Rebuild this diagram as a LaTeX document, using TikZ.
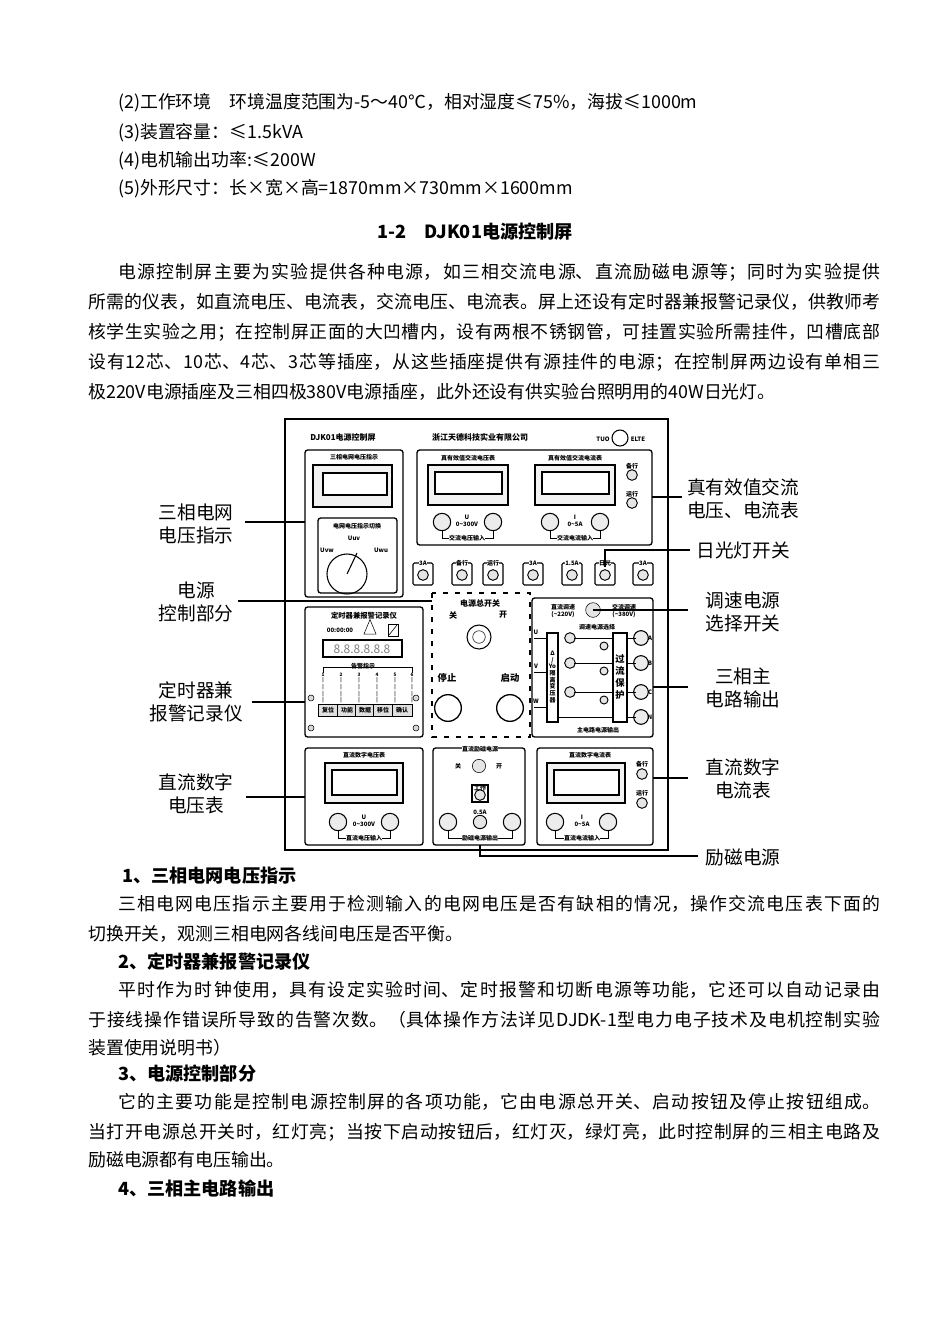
\documentclass[tikz,border=0pt]{standalone}
\usepackage{fontspec}
\setmainfont{Noto Sans CJK SC}
\XeTeXlinebreaklocale "zh"
\XeTeXlinebreakskip=0pt plus 3pt
\usetikzlibrary{shapes.geometric}
\tikzset{
 body/.style={anchor=base west,inner sep=0pt,font=\fontsize{13.4}{14}\selectfont},
 head/.style={body,font=\fontsize{13.6}{14}\selectfont\bfseries},
 lab/.style={align=center,inner sep=0pt,font=\fontsize{14}{17}\selectfont},
 tiny/.style={inner sep=0pt,font=\fontsize{4.5}{5}\selectfont\bfseries},
 box/.style={draw,line width=1pt,rounded corners=2pt},
 meter/.style={draw,line width=0.8pt,fill=gray!10},
 term/.style={draw,line width=0.8pt,circle,minimum size=13pt,inner sep=0pt,fill=gray!15},
 lamp/.style={draw,line width=0.7pt,circle,minimum size=8pt,inner sep=0pt,fill=gray!20},
 lead/.style={line width=1.3pt}
}
\newcommand{\jl}[1]{\parbox[b]{594pt}{\parfillskip=0pt\parindent=0pt\emergencystretch=20pt #1}}
\newcommand{\jf}[1]{\parbox[b]{571.5pt}{\parfillskip=0pt\parindent=0pt\emergencystretch=20pt #1}}
\begin{document}
\begin{tikzpicture}[x=0.75pt,y=-0.75pt]
\useasboundingbox (0,0) rectangle (950,1342);
% top text
\node[body] (t1) at (118,108) {(2)工作环境\quad 环境温度范围为-5～40℃，相对湿度≤75\%，海拔≤1000m};
\node[body] (t2) at (118,138) {(3)装置容量：≤1.5kVA};
\node[body] (t3) at (118,166) {(4)电机输出功率:≤200W};
\node[body] (t4) at (118,194) {(5)外形尺寸：长×宽×高=1870mm×730mm×1600mm};
\node[head,anchor=base] (ttl) at (475,238) {1-2\quad DJK01电源控制屏};
\node[body] (p1) at (118,278) {\jf{电源控制屏主要为实验提供各种电源，如三相交流电源、直流励磁电源等；同时为实验提供}};
\node[body] (p2) at (88,308) {\jl{所需的仪表，如直流电压、电流表，交流电压、电流表。屏上还设有定时器兼报警记录仪，供教师考}};
\node[body] (p3) at (88,338) {\jl{核学生实验之用；在控制屏正面的大凹槽内，设有两根不锈钢管，可挂置实验所需挂件，凹槽底部}};
\node[body] (p4) at (88,368) {\jl{设有12芯、10芯、4芯、3芯等插座，从这些插座提供有源挂件的电源；在控制屏两边设有单相三}};
\node[body] (p5) at (88,398) {极220V电源插座及三相四极380V电源插座，此外还设有供实验台照明用的40W日光灯。};

% panel
\draw[line width=1.6pt] (285,419) rectangle (668,850);
\node[tiny,font=\fontsize{6}{6}\selectfont\bfseries] (pt) at (343,437) {DJK01电源控制屏};
\node[tiny,font=\fontsize{6}{6}\selectfont\bfseries] (co) at (480,437) {浙江天德科技实业有限公司};
\node[draw,circle,minimum size=12pt,inner sep=0pt,line width=0.8pt] (logo) at (620,438) {};
\node[tiny] (lg1) at (603,439) {TUO}; \node[tiny] (lg2) at (638,439) {ELTE};
% grid voltage
\draw[box] (305,450) rectangle (403,597);
\node[tiny] (g1) at (354,457) {三相电网电压指示};
\draw[meter] (313,465) rectangle (392,507); \draw[line width=0.8pt,fill=white] (323,473) rectangle (387,495);
\draw[box] (318,518) rectangle (397,593);
\node[tiny] (g2) at (357,526) {电网电压指示切换};
\node[draw,circle,minimum size=30pt,line width=0.8pt] (knob) at (347,574) {};
\draw[line width=0.8pt] (knob.center) -- (357,553);
\node[tiny] (u1) at (354,538) {Uuv}; \node[tiny] (u2) at (327,550) {Uvw}; \node[tiny] (u3) at (381,550) {Uwu};
% AC meters
\draw[box] (417,450) rectangle (652,545);
\node[tiny] (a1) at (468,458) {真有效值交流电压表};
\node[tiny] (a2) at (575,458) {真有效值交流电流表};
\draw[meter] (428,465) rectangle (508,505); \draw[line width=0.8pt,fill=white] (435,472) rectangle (502,494);
\draw[meter] (535,465) rectangle (615,505); \draw[line width=0.8pt,fill=white] (542,472) rectangle (609,494);
\node[term] (vt1) at (442,522) {}; \node[term] (vt2) at (493,522) {};
\node[term] (it1) at (550,522) {}; \node[term] (it2) at (600,522) {};
\draw (vt1) -- (442,538) -- (493,538) -- (vt2); \draw (it1) -- (550,538) -- (600,538) -- (it2);
\node[tiny,align=center] (vu) at (467,521) {U\\0\textasciitilde300V};
\node[tiny,fill=white] (vi) at (467,538) {交流电压输入};
\node[tiny,align=center] (iu) at (575,521) {I\\0\textasciitilde5A};
\node[tiny,fill=white] (ii) at (575,538) {交流电流输入};
\node[lamp] (l1) at (632,475) {}; \node[tiny] (l1t) at (632,466) {备行};
\node[lamp] (l2) at (632,503) {}; \node[tiny] (l2t) at (632,494) {运行};
% fuse row
\foreach \x/\t [count=\i] in {423/3A,462/备行,493/运行,533/3A,572/1.5A,605/日光,643/3A}{
 \draw[line width=0.8pt,rounded corners=1pt] (\x-10,563) rectangle (\x+10,585);
 \node[lamp] (f\i) at (\x,575) {};
 \node[tiny,fill=white] (ft\i) at (\x,563) {\t};
}
% power control
\draw[dashed,line width=1.2pt,dash pattern=on 4pt off 5pt] (432,593) rectangle (530,737);
\node[tiny,font=\fontsize{6}{6}\selectfont\bfseries] (pc) at (480,603) {电源总开关};
\node[tiny,font=\fontsize{6}{6}\selectfont\bfseries] (pc1) at (453,615) {关};
\node[tiny,font=\fontsize{6}{6}\selectfont\bfseries] (pc2) at (503,615) {开};
\node[draw,circle,minimum size=18pt,line width=0.8pt] (key) at (479,637) {};
\node[draw,circle,minimum size=9pt] (key2) at (479,637) {};
\node[tiny,font=\fontsize{7}{7}\selectfont\bfseries] (st) at (447,678) {停止};
\node[tiny,font=\fontsize{7}{7}\selectfont\bfseries] (sr) at (510,678) {启动};
\node[draw,circle,minimum size=20pt,line width=1pt] (b1) at (448,708) {};
\node[draw,circle,minimum size=20pt,line width=1pt] (b2) at (510,708) {};
% timer
\draw[box] (305,607) rectangle (423,737);
\node[tiny,font=\fontsize{5.5}{6}\selectfont\bfseries] (tm) at (364,616) {定时器兼报警记录仪};
\node[tiny] (clk) at (340,630) {00:00:00};
\node[draw,isosceles triangle,shape border rotate=90,minimum size=9pt,inner sep=0pt] (tri) at (370,630) {};
\draw (388,624) rectangle (398,636); \draw (389,635) -- (397,625);
\draw[meter,fill=white] (323,640) rectangle (402,657);
\node[tiny,font=\fontsize{9}{9}\selectfont,text=gray] (led) at (362,649) {8.8.8.8.8.8};
\node[tiny] (al) at (363,666) {告警指示};
\draw (323,673) -- (323,667) -- (412,667) -- (412,673);
\foreach \x/\n in {323/1,341/2,359/3,377/4,395/5,412/6}{
 \node[tiny,align=center,font=\fontsize{3.5}{4}\selectfont\bfseries] (c\n) at (\x,688) {\n\\|\\|\\|\\|};
}
\foreach \x/\t [count=\i] in {328/复位,347/功能,365/数据,383/移位,402/确认}{
 \node[draw,fill=gray!25,minimum width=15pt,minimum height=9pt,inner sep=0pt,tiny] (k\i) at (\x,710) {\t};
}
\foreach \p in {(311,698),(416,698),(311,728),(416,728)} \draw[fill=gray!30] \p circle (3);
% main circuit
\draw[box] (532,598) rectangle (653,737);
\node[tiny,align=center] (dd) at (563,611) {直流调速\\(\textasciitilde220V)};
\node[tiny,align=center] (jd) at (624,611) {交流调速\\(\textasciitilde380V)};
\node[draw,circle,minimum size=11pt,fill=gray!20] (sel) at (593,610) {};
\node[tiny] (ss) at (597,627) {调速电源选择};
\draw[line width=0.8pt] (547,633) rectangle (558,722);
\node[tiny,align=center] (tr) at (552.5,677) {Δ\\/\\Yo\\隔\\离\\变\\压\\器};
\draw[line width=0.8pt] (613,633) rectangle (627,722);
\node[tiny,align=center,font=\fontsize{7}{9}\selectfont\bfseries] (pr) at (620,677) {过\\流\\保\\护};
\foreach \y/\l in {638/A,663/B,692/C,717/N}{ \node[term,minimum size=11pt] (o\l) at (641,\y) {}; \node[tiny] at (650,\y) {\l}; }
\foreach \y/\l in {638/U,672/V,707/W}{ \node[tiny] at (536,\y-6) {\l}; \draw (534,\y) -- (547,\y); }
\foreach \y in {638,663,692}{ \node[lamp] at (570,\y) {}; \draw (574,\y) -- (613,\y); \draw (627,\y) -- (636,\y); \node[lamp,minimum size=6pt] at (604,\y+8) {}; }
\draw (558,717) -- (613,717); \draw (627,717) -- (636,717);
\node[tiny] (mo) at (598,730) {主电路电源输出};
% DC voltmeter
\draw[box] (305,748) rectangle (423,845);
\node[tiny] (dv) at (364,755) {直流数字电压表};
\draw[meter] (325,763) rectangle (403,803); \draw[line width=0.8pt,fill=white] (332,770) rectangle (397,795);
\node[term] (dv1) at (338,822) {}; \node[term] (dv2) at (390,822) {};
\draw (dv1) -- (338,838) -- (390,838) -- (dv2);
\node[tiny,align=center] (dvu) at (364,821) {U\\0\textasciitilde300V};
\node[tiny,fill=white] (dvi) at (364,838) {直流电压输入};
% excitation
\draw[box] (433,748) rectangle (525,845);
\node[tiny,fill=white] (ex) at (480,749) {直流励磁电源};
\node[tiny] (ex1) at (458,766) {关}; \node[tiny] (ex2) at (499,766) {开};
\node[draw,circle,minimum size=10pt,fill=gray!20] (exs) at (479,766) {};
\draw[line width=0.9pt] (472,785) rectangle (488,802); \node[lamp] (wk) at (480,795) {}; \node[tiny] at (480,788) {工作};
\node[lamp,minimum size=10pt] (fu) at (480,822) {}; \node[tiny] at (480,812) {0.5A};
\node[term] (e1) at (448,822) {}; \node[term] (e2) at (512,822) {};
\draw (e1) -- (448,838) -- (512,838) -- (e2);
\node[tiny,fill=white] (eo) at (480,838) {励磁电源输出};
% DC ammeter
\draw[box] (537,748) rectangle (653,845);
\node[tiny] (da) at (590,755) {直流数字电流表};
\draw[meter] (547,763) rectangle (625,803); \draw[line width=0.8pt,fill=white] (554,770) rectangle (619,795);
\node[term] (da1) at (555,822) {}; \node[term] (da2) at (608,822) {};
\draw (da1) -- (555,838) -- (608,838) -- (da2);
\node[tiny,align=center] (dau) at (582,821) {I\\0\textasciitilde5A};
\node[tiny,fill=white] (dai) at (582,838) {直流电流输入};
\node[lamp] (dl1) at (642,774) {}; \node[tiny] at (642,764) {备行};
\node[lamp] (dl2) at (642,803) {}; \node[tiny] at (642,793) {运行};

% side labels
\node[lab] (L1) at (196,524) {三相电网\\电压指示};
\node[lab] (L2) at (196,602) {电源\\控制部分};
\node[lab] (L3) at (196,702) {定时器兼\\报警记录仪};
\node[lab] (L4) at (196,794) {直流数字\\电压表};
\node[lab] (R1) at (743,499) {真有效值交流\\电压、电流表};
\node[lab] (R2) at (743,550) {日光灯开关};
\node[lab] (R3) at (743,612) {调速电源\\选择开关};
\node[lab] (R4) at (743,688) {三相主\\电路输出};
\node[lab] (R5) at (743,779) {直流数字\\电流表};
\node[lab] (R6) at (743,857) {励磁电源};
\draw[lead] (245,522) -- (305,522);
\draw[lead] (238,601) -- (432,601);
\draw[lead] (252,702) -- (305,702);
\draw[lead] (246,797) -- (305,797);
\draw[lead] (652,497) -- (682,497);
\draw[lead] (605,567) -- (605,550) -- (690,550);
\draw[lead] (sel.center) -- (688,610);
\draw[lead] (653,687) -- (688,687);
\draw[lead] (653,778) -- (688,778);
\draw[lead] (480,845) -- (480,856) -- (698,856);

% bottom text
\node[head] (h1) at (122,882) {1、三相电网电压指示};
\node[body] (q1) at (118,910) {\jf{三相电网电压指示主要用于检测输入的电网电压是否有缺相的情况，操作交流电压表下面的}};
\node[body] (q2) at (88,940) {切换开关，观测三相电网各线间电压是否平衡。};
\node[head] (h2) at (118,968) {2、定时器兼报警记录仪};
\node[body] (q3) at (118,996) {\jf{平时作为时钟使用，具有设定实验时间、定时报警和切断电源等功能，它还可以自动记录由}};
\node[body] (q4) at (88,1026) {\jl{于接线操作错误所导致的告警次数。（具体操作方法详见DJDK-1型电力电子技术及电机控制实验}};
\node[body] (q5) at (88,1054) {装置使用说明书）};
\node[head] (h3) at (118,1080) {3、电源控制部分};
\node[body] (q6) at (118,1108) {\jf{它的主要功能是控制电源控制屏的各项功能，它由电源总开关、启动按钮及停止按钮组成。}};
\node[body] (q7) at (88,1138) {\jl{当打开电源总开关时，红灯亮；当按下启动按钮后，红灯灭，绿灯亮，此时控制屏的三相主电路及}};
\node[body] (q8) at (88,1166) {励磁电源都有电压输出。};
\node[head] (h4) at (118,1195) {4、三相主电路输出};
\end{tikzpicture}
\end{document}
